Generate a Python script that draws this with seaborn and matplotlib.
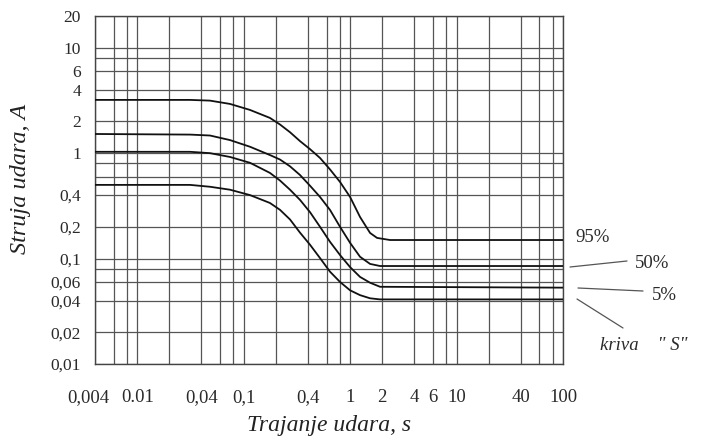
import numpy as np
import pandas as pd
import seaborn as sns
import matplotlib.pyplot as plt
import matplotlib.transforms as mtransforms

# Curve data (time in s, current in A)
t_95 = [0.004, 0.0313, 0.0482, 0.0743, 0.1145, 0.176, 0.219, 0.272, 0.338, 0.42,
        0.521, 0.647, 0.803, 0.998, 1.238, 1.538, 1.79, 2.37, 100]
i_95 = [3.2, 3.2, 3.15, 2.93, 2.57, 2.16, 1.87, 1.58, 1.3, 1.09,
        0.90, 0.70, 0.533, 0.384, 0.248, 0.175, 0.157, 0.15, 0.15]

t_50 = [0.004, 0.0313, 0.0482, 0.0743, 0.1145, 0.176, 0.219, 0.272, 0.338, 0.42,
        0.521, 0.647, 0.803, 0.998, 1.238, 1.538, 1.91, 100]
i_50 = [1.52, 1.50, 1.47, 1.33, 1.15, 0.96, 0.87, 0.75, 0.62, 0.49,
        0.384, 0.289, 0.20, 0.141, 0.104, 0.089, 0.085, 0.085]

t_5 = [0.004, 0.0313, 0.0482, 0.0743, 0.1145, 0.176, 0.219, 0.272, 0.338, 0.42,
       0.521, 0.647, 0.803, 0.998, 1.238, 1.538, 1.91, 100]
i_5 = [1.03, 1.03, 1.0, 0.92, 0.81, 0.65, 0.55, 0.45, 0.36, 0.275,
       0.20, 0.144, 0.108, 0.083, 0.067, 0.059, 0.054, 0.053]

t_s = [0.004, 0.0313, 0.0482, 0.0743, 0.1145, 0.176, 0.219, 0.272, 0.338, 0.42,
       0.521, 0.647, 0.803, 0.998, 1.238, 1.538, 1.91, 100]
i_s = [0.50, 0.50, 0.48, 0.45, 0.40, 0.337, 0.29, 0.235, 0.176, 0.135,
       0.101, 0.075, 0.060, 0.050, 0.045, 0.042, 0.041, 0.041]

x_grid = [0.004, 0.006, 0.008, 0.01, 0.02, 0.04, 0.06, 0.08, 0.1, 0.2, 0.4, 0.6, 0.8,
          1, 2, 4, 6, 8, 10, 20, 40, 60, 80, 100]
x_labels = {0.004: '0,004', 0.01: '0.01', 0.04: '0,04', 0.1: '0,1', 0.4: '0,4',
            1: '1', 2: '2', 4: '4', 6: '6', 10: '10', 40: '40', 100: '100'}
y_grid = [0.01, 0.02, 0.04, 0.06, 0.08, 0.1, 0.2, 0.4, 0.6, 0.8, 1, 2, 4, 6, 8, 10, 20]
y_labels = {0.01: '0,01', 0.02: '0,02', 0.04: '0,04', 0.06: '0,06', 0.1: '0,1',
            0.2: '0,2', 0.4: '0,4', 1: '1', 2: '2', 4: '4', 6: '6', 10: '10', 20: '20'}

curves = [('95%', t_95, i_95), ('50%', t_50, i_50), ('5%', t_5, i_5), ('S', t_s, i_s)]
df = pd.concat([pd.DataFrame({'t': t, 'i': i, 'curve': name}) for name, t, i in curves])

sns.set_style('white')
plt.rcParams['font.family'] = ['Liberation Serif', 'DejaVu Serif']

W, H = 701, 441
fig = plt.figure(figsize=(W / 100, H / 100), dpi=100)
ax = fig.add_axes([95 / W, 1 - 364 / H, (563 - 95) / W, (364 - 16) / H])

sns.lineplot(data=df, x='t', y='i', units='curve', estimator=None, color='#111111',
             linewidth=1.3, sort=False, ax=ax, zorder=3)

ax.set_xscale('log')
ax.set_yscale('log')
ax.set_xlim(0.004, 100)
ax.set_ylim(0.01, 20)

ax.set_xticks(x_grid)
ax.set_xticklabels([x_labels.get(v, '') for v in x_grid])
ax.set_yticks(y_grid)
ax.set_yticklabels([y_labels.get(v, '') for v in y_grid])
ax.minorticks_off()
ax.tick_params(axis='both', length=0, colors='#2a2a2a')
ax.tick_params(axis='x', pad=18, labelsize=13.5)
ax.tick_params(axis='y', pad=10, labelsize=12.5)
ax.grid(True, color='#555555', linewidth=0.9)

# first x label sits a little left of its gridline in the scan
lbl = ax.get_xticklabels()[0]
lbl.set_transform(lbl.get_transform() + mtransforms.ScaledTranslation(-7 / 100, 0, fig.dpi_scale_trans))

for sp in ax.spines.values():
    sp.set_color('#444444')
    sp.set_linewidth(1.0)

ax.set_xlabel('Trajanje udara, s', fontsize=17, style='italic', color='#222222', va='center')
ax.xaxis.set_label_coords(0.5, -(426 - 364) / 348)
ax.set_ylabel('Struja udara, A', fontsize=17.5, style='italic', color='#222222', va='center')
ax.yaxis.set_label_coords(-(95 - 21) / 468, (364 - 179) / 348)

# right side curve labels with leader lines
txt = dict(fontsize=13.5, color='#2a2a2a', transform=fig.transFigure, va='center')
fig.text(575 / W, 1 - 238 / H, '95%', **txt)
fig.text(635 / W, 1 - 264 / H, '50%', **txt)
fig.text(652 / W, 1 - 296 / H, '5%', **txt)
fig.text(600 / W, 1 - 346 / H, 'kriva    " S"', style='italic', **txt)
for (x0, y0), (x1, y1) in [((570, 267), (627, 261)), ((578, 288), (643, 291)),
                           ((577, 299), (623, 328))]:
    fig.add_artist(plt.Line2D([x0 / W, x1 / W], [1 - y0 / H, 1 - y1 / H],
                              transform=fig.transFigure, color='#555555', linewidth=0.9))

fig.savefig('out.png', dpi=100)
